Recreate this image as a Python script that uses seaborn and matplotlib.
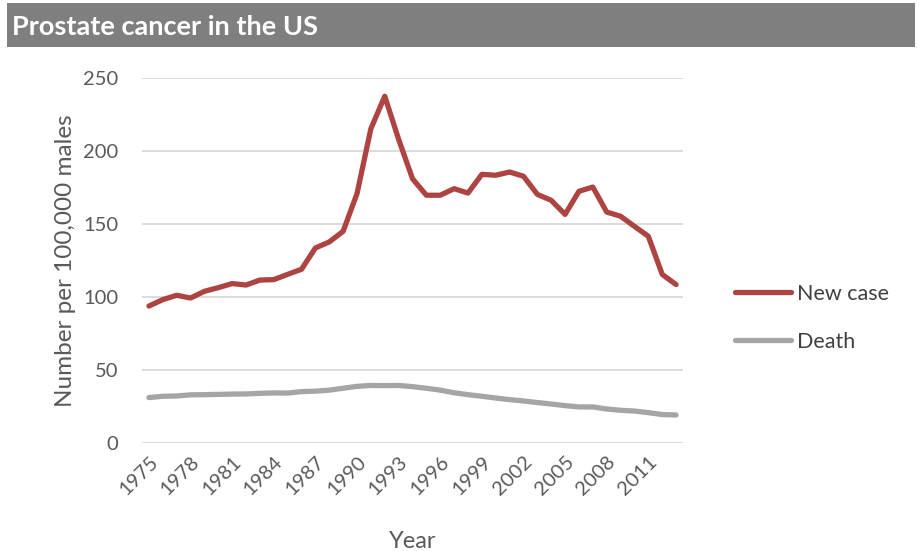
import matplotlib
matplotlib.use("Agg")
import matplotlib.pyplot as plt
import seaborn as sns
import pandas as pd
from matplotlib.patches import Rectangle
from matplotlib.lines import Line2D

years = list(range(1975, 2014))
new_case = [93.8, 98.2, 101.2, 99.3, 103.9, 106.4, 109.2, 108.2, 111.6, 111.9,
            115.5, 119.0, 133.6, 137.7, 145.0, 170.8, 215.3, 237.5, 208.0, 181.0,
            169.7, 169.7, 174.2, 171.2, 184.0, 183.4, 185.6, 182.7, 170.3, 166.2,
            156.6, 172.4, 175.3, 158.2, 155.3, 148.4, 141.6, 115.5, 108.5]
death = [31.1, 32.0, 32.2, 33.0, 33.1, 33.3, 33.5, 33.6, 34.0, 34.3,
         34.2, 35.2, 35.5, 36.2, 37.5, 38.8, 39.4, 39.3, 39.4, 38.6,
         37.5, 36.2, 34.4, 33.1, 32.0, 30.8, 29.7, 28.8, 27.7, 26.7,
         25.6, 24.7, 24.7, 23.3, 22.4, 21.9, 20.8, 19.5, 19.2]
series_names = ["New case", "Death"]
tick_years = list(range(1975, 2012, 3))

df = pd.DataFrame({
    "Year": years * 2,
    "Value": new_case + death,
    "Series": [series_names[0]] * len(years) + [series_names[1]] * len(years),
})

sns.set_theme(style="white")
plt.rcParams["font.family"] = ["Lato", "DejaVu Sans"]

fig = plt.figure(figsize=(9.19, 5.51), dpi=100)
ax = fig.add_axes([142 / 919, 1 - 443 / 551, 541 / 919, 365 / 551])

palette = {"New case": "#AE4442", "Death": "#A5A5A5"}
sns.lineplot(data=df, x="Year", y="Value", hue="Series", palette=palette,
             linewidth=3.8, ax=ax, legend=False)

ax.set_xlim(1974.5, 2013.5)
ax.set_ylim(0, 250)
ax.set_yticks([0, 50, 100, 150, 200, 250])
ax.yaxis.grid(True, color="#D9D9D9", linewidth=1.3)
ax.set_axisbelow(True)
for s in ax.spines.values():
    s.set_visible(False)
ax.set_xticks(tick_years)
ax.set_xticklabels([str(y) for y in tick_years], rotation=45, ha="right",
                   va="top", rotation_mode="anchor")
ax.tick_params(axis="both", length=0, labelsize=14.5, colors="#595959")
ax.tick_params(axis="x", pad=7)
ax.tick_params(axis="y", pad=17)
ax.set_xlabel("Year", fontsize=17, color="#595959", labelpad=24)
ax.set_ylabel("Number per 100,000 males", fontsize=17.5, color="#595959", labelpad=5)

handles = [Line2D([0], [0], color=palette[n], lw=3.8) for n in series_names]
fig.legend(handles, series_names, loc="center left",
           bbox_to_anchor=(716 / 919, 1 - 318 / 551), frameon=False,
           fontsize=15.5, handlelength=2.6, handletextpad=0.25, labelspacing=1.3,
           labelcolor="#404040")

fig.patches.append(Rectangle((7 / 919, 1 - 47 / 551), 908 / 919, 44 / 551,
                             transform=fig.transFigure, facecolor="#7F7F7F",
                             edgecolor="none", zorder=0))
fig.text(12 / 919, 1 - 27 / 551, "Prostate cancer in the US", color="white",
         fontsize=19.5, fontweight="bold", va="center", ha="left")

fig.savefig("out.png", dpi=100, facecolor="white")
